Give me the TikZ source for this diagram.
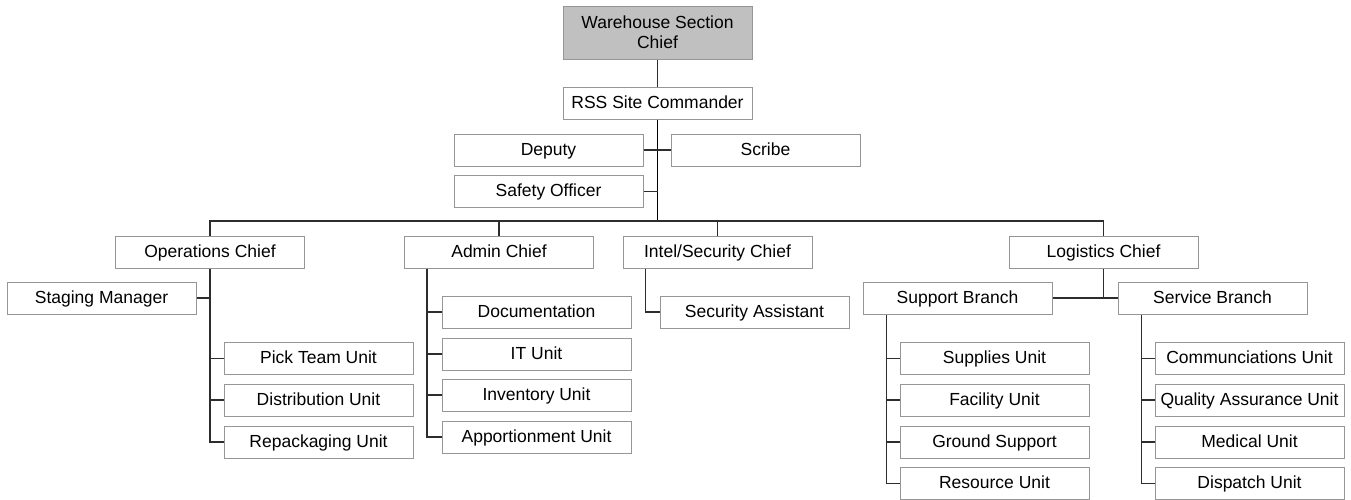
\documentclass[tikz,border=0pt]{standalone}
\usepackage{fontspec}
\setmainfont{Liberation Sans}
\usetikzlibrary{calc}
\definecolor{boxline}{RGB}{150,150,150}
\definecolor{wireline}{RGB}{45,45,45}
\definecolor{chieffill}{RGB}{192,192,192}
\tikzset{
    boxbase/.style={draw=boxline, line width=1pt, fill=white, minimum width=189pt,
        minimum height=32pt, inner sep=0pt, font=\fontsize{17.5}{20}\selectfont},
    unitbox/.style={boxbase, text height=12.5pt, text depth=2.5pt},
    wire/.style={draw=wireline, line width=1.3pt},
}
\begin{document}
\begin{tikzpicture}[x=1pt, y=-1pt]
    \useasboundingbox (0, 0) rectangle (1351, 499);
        % top of the chart
        \node[boxbase, fill=chieffill, minimum height=53pt, align=center] (whc) at (657.5, 32.5) {Warehouse Section\\Chief};
        \node[unitbox] (rss) at (657.5, 103) {RSS Site Commander};
        \node[unitbox] (dep) at (548.5, 150) {Deputy};
        \node[unitbox] (scr) at (765.5, 150) {Scribe};
        \node[unitbox] (saf) at (548.5, 191.5) {Safety Officer};
        \coordinate (bus) at (657.5, 221);
        % section chiefs
        \node[unitbox] (ops) at (210, 252) {Operations Chief};
        \node[unitbox] (adm) at (499, 252) {Admin Chief};
        \node[unitbox] (intl) at (717.5, 252) {Intel/Security Chief};
        \node[unitbox] (logi) at (1103.5, 252) {Logistics Chief};
        % operations
        \node[unitbox] (stg) at (101.5, 298) {Staging Manager};
        \node[unitbox] (pick) at (318.5, 358.5) {Pick Team Unit};
        \node[unitbox] (dist) at (318.5, 400) {Distribution Unit};
        \node[unitbox] (repk) at (318.5, 442) {Repackaging Unit};
        % admin
        \node[unitbox] (docu) at (536.5, 312) {Documentation};
        \node[unitbox] (itu) at (536.5, 354) {IT Unit};
        \node[unitbox] (invt) at (536.5, 395) {Inventory Unit};
        \node[unitbox] (appt) at (536.5, 437) {Apportionment Unit};
        % intel
        \node[unitbox] (secu) at (754.5, 312) {Security Assistant};
        % logistics
        \node[unitbox] (supb) at (957.5, 298) {Support Branch};
        \node[unitbox] (srvb) at (1212.5, 298) {Service Branch};
        \node[unitbox] (supl) at (994.5, 358.5) {Supplies Unit};
        \node[unitbox] (facl) at (994.5, 400) {Facility Unit};
        \node[unitbox] (grnd) at (994.5, 442) {Ground Support};
        \node[unitbox] (resu) at (994.5, 483.3) {Resource Unit};
        \node[unitbox] (comm) at (1249.5, 358.5) {Communciations Unit};
        \node[unitbox] (qual) at (1249.5, 400) {Quality Assurance Unit};
        \node[unitbox] (medu) at (1249.5, 442) {Medical Unit};
        \node[unitbox] (disp) at (1249.5, 483.3) {Dispatch Unit};

        \draw[wire] (whc.south) -- (rss.north);
        \draw[wire, line width=1.7pt, draw=black] (rss.south) -- (bus);
        \draw[wire] (dep.east) -- (scr.west);
        \draw[wire] (saf.east) -- (saf.east -| bus);
        \draw[wire] (ops.north) |- (bus) -| (logi.north);
        \draw[wire] (adm.north) -- (adm.north |- bus);
        \draw[wire] (intl.north) -- (intl.north |- bus);
        % operations branch
        \draw[wire] (ops.south) |- (repk.west);
        \draw[wire] (stg.east) -- (stg.east -| ops.south);
        \foreach \u in {pick, dist}
            \draw[wire] (\u.west) -- (\u.west -| ops.south);
        % admin branch
        \coordinate (admx) at ($(adm.south west)+(23, 0)$);
        \draw[wire] (admx) |- (appt.west);
        \foreach \u in {docu, itu, invt}
            \draw[wire] (\u.west) -- (\u.west -| admx);
        % intel branch
        \coordinate (intx) at ($(intl.south west)+(23, 0)$);
        \draw[wire] (intx) |- (secu.west);
        % logistics branch
        \draw[wire] (logi.south) -- (logi.south |- supb.east);
        \draw[wire] (supb.east) -- (srvb.west);
        \coordinate (supx) at ($(supb.south west)+(24, 0)$);
        \draw[wire] (supx) |- (resu.west);
        \foreach \u in {supl, facl, grnd}
            \draw[wire] (\u.west) -- (\u.west -| supx);
        \coordinate (srvx) at ($(srvb.south west)+(24, 0)$);
        \draw[wire] (srvx) |- (disp.west);
        \foreach \u in {comm, qual, medu}
            \draw[wire] (\u.west) -- (\u.west -| srvx);
    \end{tikzpicture}
\end{document}
